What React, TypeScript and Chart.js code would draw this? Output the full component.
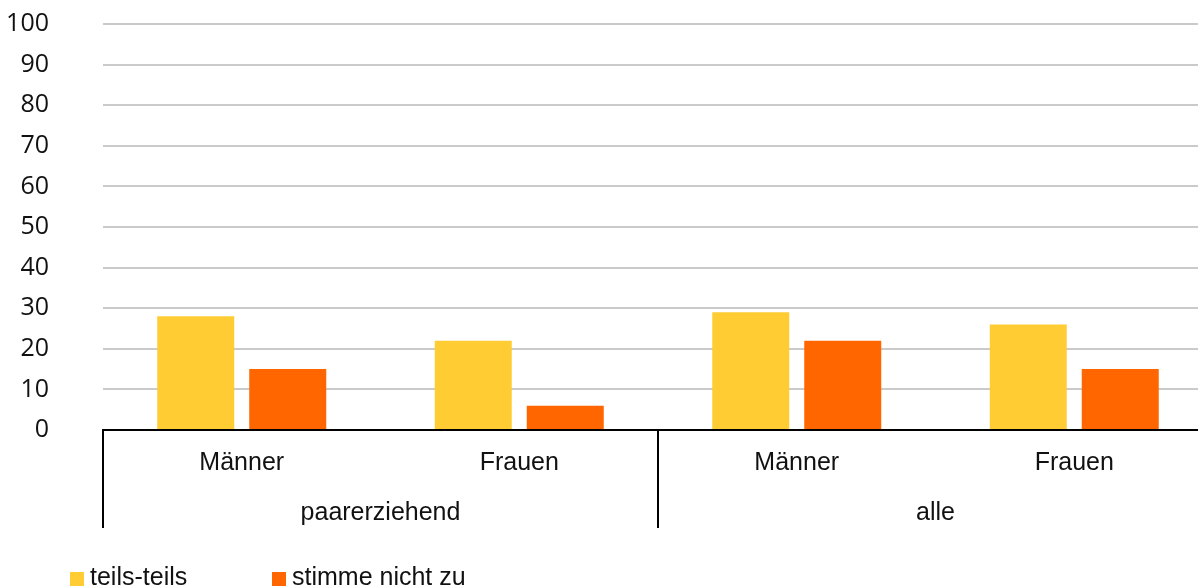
import React, { useEffect, useRef } from "react";
import { Chart, registerables } from "chart.js";

Chart.register(...registerables);

const categories = ["Männer", "Frauen", "Männer", "Frauen"];
const categoryGroups = ["paarerziehend", "paarerziehend", "alle", "alle"];
const seriesNames = ["teils-teils", "stimme nicht zu"];
const teilsTeils = [28, 22, 29, 26];
const stimmeNichtZu = [15, 6, 22, 15];
const yMin = 0;
const yMax = 100;
const yStep = 10;

const COLORS = ["#FFCC33", "#FF6600"];
const LABEL_FONT = "25px 'Liberation Sans', Arial, sans-serif";

const multiLevelPlugin = {
  id: "multiLevel",
  afterDraw(chart: any) {
    const ctx = chart.ctx;
    const x = chart.scales.x;
    const area = chart.chartArea;
    const n = categories.length;
    const half = n > 1 ? (x.getPixelForValue(1) - x.getPixelForValue(0)) / 2 : (x.right - x.left) / 2;
    ctx.save();
    ctx.fillStyle = "#111";
    ctx.font = LABEL_FONT;
    ctx.textAlign = "center";
    ctx.textBaseline = "alphabetic";
    for (let i = 0; i < n; i++) {
      ctx.fillText(categories[i], x.getPixelForValue(i), area.bottom + 40);
    }
    let start = 0;
    const bounds: number[] = [];
    for (let i = 1; i <= n; i++) {
      if (i === n || categoryGroups[i] !== categoryGroups[start]) {
        const l = x.getPixelForValue(start) - half;
        const r = x.getPixelForValue(i - 1) + half;
        ctx.fillText(categoryGroups[start], (l + r) / 2, area.bottom + 90);
        bounds.push(l);
        if (i === n) bounds.push(r);
        start = i;
      }
    }
    ctx.strokeStyle = "#000";
    ctx.lineWidth = 2;
    for (const b of bounds) {
      ctx.beginPath();
      ctx.moveTo(b, area.bottom);
      ctx.lineTo(b, area.bottom + 98);
      ctx.stroke();
    }
    const legendX = [70, 272];
    const baseY = area.bottom + 155;
    ctx.textAlign = "left";
    chart.data.datasets.forEach((ds: any, i: number) => {
      ctx.fillStyle = ds.backgroundColor;
      ctx.fillRect(legendX[i], baseY - 13, 14, 14);
      ctx.fillStyle = "#111";
      ctx.fillText(ds.label, legendX[i] + 20, baseY);
    });
    ctx.restore();
  },
};

export default function App() {
  const ref = useRef<HTMLCanvasElement | null>(null);
  useEffect(() => {
    if (!ref.current) return;
    const chart = new Chart(ref.current, {
      type: "bar",
      data: {
        labels: categories,
        datasets: [
          {
            label: seriesNames[0],
            data: teilsTeils,
            backgroundColor: COLORS[0],
            categoryPercentage: 0.663,
            barPercentage: 0.837,
          },
          {
            label: seriesNames[1],
            data: stimmeNichtZu,
            backgroundColor: COLORS[1],
            categoryPercentage: 0.663,
            barPercentage: 0.837,
          },
        ],
      },
      options: {
        animation: false,
        responsive: false,
        maintainAspectRatio: false,
        devicePixelRatio: 1,
        layout: { padding: { top: 24, bottom: 157, left: 0, right: 17 } },
        plugins: {
          legend: { display: false },
          tooltip: { enabled: false },
        },
        scales: {
          x: {
            grid: { display: false },
            ticks: { display: false },
            border: { display: true, color: "#000", width: 2 },
            afterFit(scale: any) {
              scale.height = 0;
            },
          },
          y: {
            min: yMin,
            max: yMax,
            ticks: {
              stepSize: yStep,
              padding: 0,
              color: "#111",
              font: { family: "'Open Sans', sans-serif", size: 25 },
            },
            grid: {
              color: "#cacaca",
              lineWidth: 2,
              drawTicks: true,
              tickLength: 54,
              tickColor: "rgba(0,0,0,0)",
            },
            border: { display: false },
            afterFit(scale: any) {
              scale.width = 103;
            },
          },
        },
      },
      plugins: [multiLevelPlugin],
    });
    return () => chart.destroy();
  }, []);
  return (
    <div
      style={{
        position: "absolute",
        left: 0,
        top: 0,
        width: 1198,
        height: 587,
        overflow: "hidden",
        background: "#fff",
      }}
    >
      <canvas ref={ref} width={1230} height={587} style={{ display: "block" }} />
    </div>
  );
}
